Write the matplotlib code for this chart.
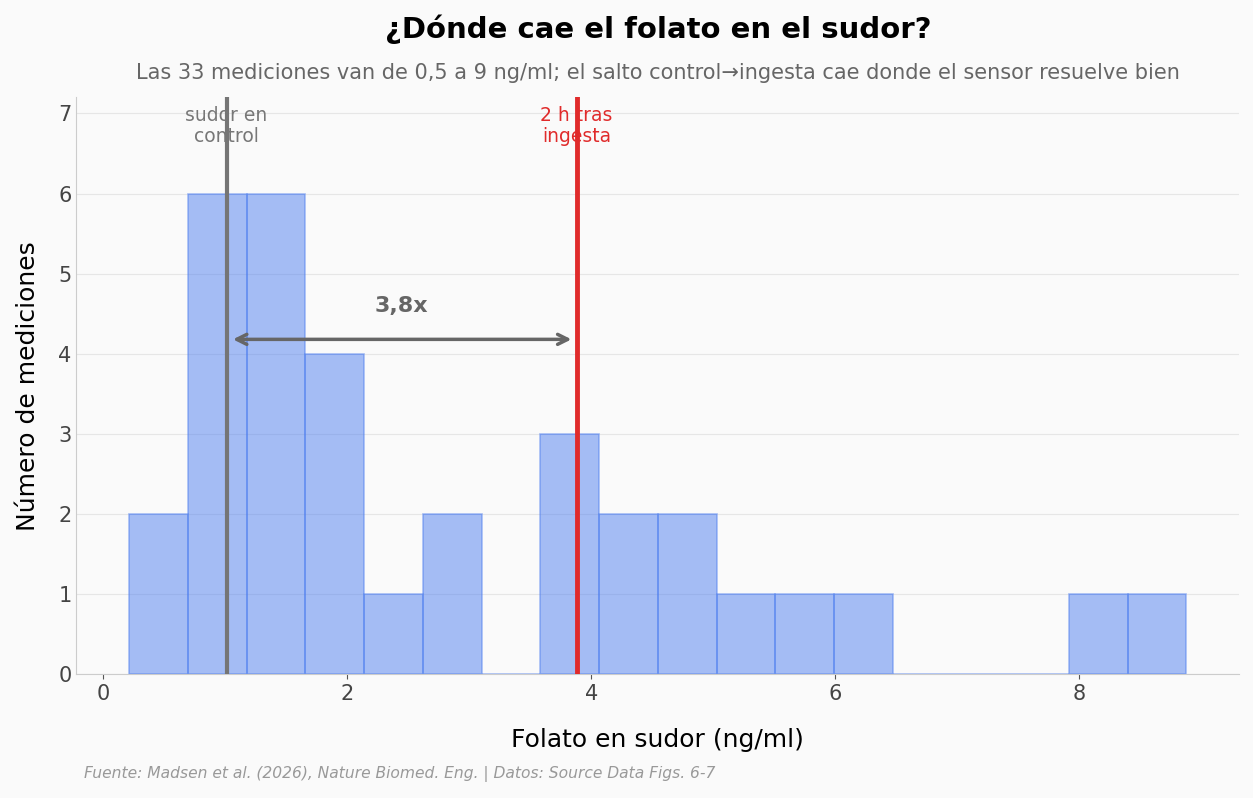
import numpy as np
import matplotlib.pyplot as plt

# histogram bins (ng/ml) and counts
bin_edges = [0.213, 0.694, 1.176, 1.657, 2.138, 2.620, 3.101, 3.582, 4.063, 4.545,
             5.026, 5.507, 5.989, 6.470, 6.951, 7.432, 7.914, 8.395, 8.876]
counts = [2, 6, 6, 4, 1, 2, 0, 3, 2, 2, 1, 1, 1, 0, 0, 0, 1, 1]

control_value = 1.01
ingesta_value = 3.88
ratio_label = "3,8x"

bg = "#fafafa"
fig, ax = plt.subplots(figsize=(12.53, 7.98), dpi=100)
fig.patch.set_facecolor(bg)
ax.set_facecolor(bg)

edges = np.array(bin_edges)
ax.hist(edges[:-1], bins=edges, weights=counts, color="#4f7fef", alpha=0.5,
        edgecolor="#4f7fef", linewidth=1.2, zorder=2)

ax.axvline(control_value, color="#757575", linewidth=3, zorder=3)
ax.axvline(ingesta_value, color="#e02b2b", linewidth=3.5, zorder=3)

ax.text(control_value, 6.84, "sudor en\ncontrol", ha="center", va="center",
        color="#777777", fontsize=13.5, linespacing=1.15, zorder=4)
ax.text(ingesta_value, 6.84, "2 h tras\ningesta", ha="center", va="center",
        color="#e02b2b", fontsize=13.5, linespacing=1.15, zorder=4)

ax.annotate("", xy=(ingesta_value - 0.02, 4.18), xytext=(control_value + 0.03, 4.18),
            arrowprops=dict(arrowstyle="<->", color="#666666", lw=2.5,
                            mutation_scale=18), zorder=4)
ax.text((control_value + ingesta_value) / 2, 4.6, ratio_label, ha="center",
        va="center", fontsize=16, fontweight="bold", color="#666666", zorder=4)

ax.set_xlim(-0.22, 9.31)
ax.set_ylim(0, 7.2)
ax.set_xticks([0, 2, 4, 6, 8])
ax.set_yticks(range(0, 8))
ax.tick_params(axis="both", labelsize=15, colors="#444444")
ax.tick_params(axis="y", length=0)
ax.tick_params(axis="x", color="#555555")
ax.grid(axis="y", color="#e6e6e6", linewidth=0.8, zorder=0)
ax.set_axisbelow(True)
for s in ["top", "right"]:
    ax.spines[s].set_visible(False)
for s in ["left", "bottom"]:
    ax.spines[s].set_color("#cccccc")

ax.set_xlabel("Folato en sudor (ng/ml)", fontsize=18, labelpad=17)
ax.set_ylabel("Número de mediciones", fontsize=18, labelpad=13)

fig.text(0.525, 0.963, "¿Dónde cae el folato en el sudor?", ha="center",
         va="center", fontsize=21, fontweight="bold")
fig.text(0.525, 0.908, "Las 33 mediciones van de 0,5 a 9 ng/ml; el salto control→ingesta cae donde el sensor resuelve bien",
         ha="center", va="center", fontsize=15, color="#666666")
fig.text(0.067, 0.030, "Fuente: Madsen et al. (2026), Nature Biomed. Eng. | Datos: Source Data Figs. 6-7",
         ha="left", va="center", fontsize=11.2, color="#999999", style="italic")

fig.subplots_adjust(left=0.061, right=0.989, top=0.878, bottom=0.155)
fig.savefig("out.png", dpi=100, facecolor=bg)
